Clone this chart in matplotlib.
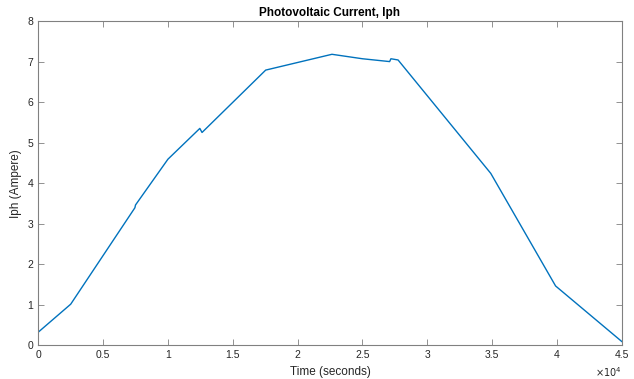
import matplotlib
matplotlib.use("Agg")
import matplotlib.pyplot as plt
from matplotlib.ticker import FuncFormatter, MultipleLocator

plt.rcParams['font.family'] = ['Liberation Sans', 'DejaVu Sans']

time_s = [0, 2500, 7450, 7500, 10000, 12460, 12630, 17540, 22650, 25000,
          27100, 27200, 27750, 34900, 39900, 45000]
iph = [0.33, 1.02, 3.40, 3.47, 4.60, 5.36, 5.26, 6.80, 7.19, 7.08,
       7.01, 7.08, 7.05, 4.25, 1.47, 0.10]

fig = plt.figure(figsize=(6.34, 3.79), dpi=100)
ax = fig.add_axes([0.0604, 0.0884, 0.9202, 0.8549])
ax.plot(time_s, iph, color='#0072BD', lw=1.0)

ax.set_xlim(0, 45000)
ax.set_ylim(0, 8)
ax.xaxis.set_major_locator(MultipleLocator(5000))
ax.yaxis.set_major_locator(MultipleLocator(1))
ax.xaxis.set_major_formatter(FuncFormatter(lambda v, p: f"{v/1e4:g}"))

axc = '#262626'
for s in ax.spines.values():
    s.set_color('#808080')
    s.set_linewidth(0.8)
ax.tick_params(direction='in', top=True, right=True, length=4, width=0.6,
               colors='#808080', labelcolor=axc, labelsize=7.5)

ax.set_xlabel('Time (seconds)', fontsize=8.5, color=axc, labelpad=4)
ax.set_ylabel('Iph (Ampere)', fontsize=8.5, color=axc, labelpad=4)
ax.set_title('Photovoltaic Current, Iph', fontsize=8.5, fontweight='bold',
             color='black', pad=4)
ax.text(1.0, -0.082, r'$\times10^{4}$', transform=ax.transAxes,
        ha='right', va='center', fontsize=7, color=axc)

fig.savefig('out.png', dpi=100)
